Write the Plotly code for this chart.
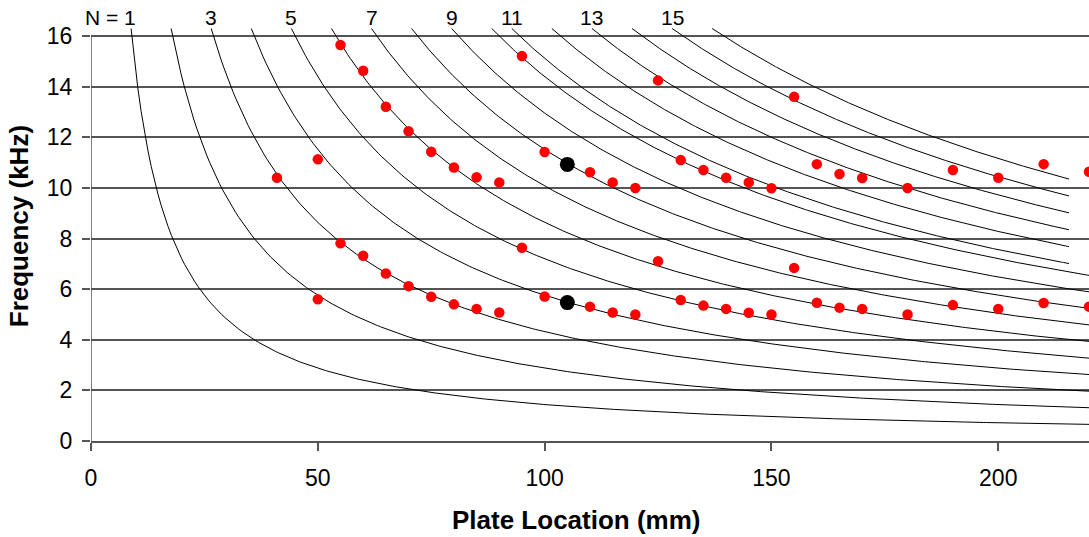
import numpy as np
import plotly.graph_objects as go

# ---- model: resonance frequency f (kHz) = N * C / x (mm) ----
C_KHZ_MM = 144.0
modes_a = [1, 2, 3, 4, 5, 6, 7, 8, 9, 10]
modes_b = [10.5, 11.5, 12.5, 13.5, 14.5, 15.5]
mode_labels = {1: "N = 1", 3: "3", 5: "5", 7: "7", 9: "9",
               10.5: "11", 12.5: "13", 14.5: "15"}
F_START = 16.3      # curves begin at this frequency
X_END_A = 230.0
X_END_B = 215.6

# ---- measured resonances ----
lower_x = [50, 55, 60, 65, 70, 75, 80, 85, 90, 95, 100, 110, 115, 120, 125,
           130, 135, 140, 145, 150, 155, 160, 165, 170, 180, 190, 200, 210, 220]
lower_f = [5.60, 7.81, 7.32, 6.62, 6.12, 5.70, 5.40, 5.22, 5.08, 7.64, 5.71,
           5.31, 5.08, 5.00, 7.10, 5.57, 5.35, 5.22, 5.07, 5.00, 6.84, 5.46,
           5.27, 5.22, 5.00, 5.37, 5.22, 5.45, 5.31]

upper_x = [41, 50, 55, 60, 65, 70, 75, 80, 85, 90, 95, 100, 110, 115, 120, 125,
           130, 135, 140, 145, 150, 155, 160, 165, 170, 180, 190, 200, 210, 220]
upper_f = [10.40, 11.13, 15.65, 14.63, 13.21, 12.24, 11.43, 10.81, 10.42, 10.22,
           15.21, 11.42, 10.62, 10.22, 10.00, 14.25, 11.10, 10.71, 10.40, 10.22,
           9.99, 13.60, 10.94, 10.55, 10.39, 10.00, 10.71, 10.40, 10.94, 10.64]

ref_x = [105, 105]
ref_f = [10.93, 5.47]

x_ticks = [0, 50, 100, 150, 200]
y_ticks = [0, 2, 4, 6, 8, 10, 12, 14, 16]

X_MAX = 220.0
Y_MAX = 16.36
FONT = "Arial, Liberation Sans, sans-serif"

fig = go.Figure()

def add_mode_curve(n, x_end):
    x0 = n * C_KHZ_MM / F_START
    xs = np.linspace(x0, x_end, 300)
    fig.add_trace(go.Scatter(
        x=xs, y=n * C_KHZ_MM / xs, mode="lines",
        line=dict(color="black", width=1), hoverinfo="skip", showlegend=False))

for n in modes_a:
    add_mode_curve(n, X_END_A)
for n in modes_b:
    add_mode_curve(n, X_END_B)

for xs, fs in ((lower_x, lower_f), (upper_x, upper_f)):
    fig.add_trace(go.Scatter(
        x=xs, y=fs, mode="markers", cliponaxis=False,
        marker=dict(color="#FF0000", size=10.5, line=dict(width=0)),
        showlegend=False))

fig.add_trace(go.Scatter(
    x=ref_x, y=ref_f, mode="markers", cliponaxis=False,
    marker=dict(color="black", size=15, line=dict(width=0)),
    showlegend=False))

# text placed in paper fractions so it may sit outside the plotting area
def px(xv):
    return xv / X_MAX

def py(yv):
    return yv / Y_MAX

annotations = []
for n, text in mode_labels.items():
    x0 = n * C_KHZ_MM / F_START
    ann = dict(x=px(x0), y=py(16.74), xref="paper", yref="paper", text=text,
               showarrow=False, font=dict(family=FONT, size=21, color="black"),
               xanchor="center", yanchor="middle")
    if n == 1:
        ann.update(xanchor="right", xshift=7)
    annotations.append(ann)

annotations.append(dict(
    x=px(-15.8), y=py(8.5), xref="paper", yref="paper",
    text="<b>Frequency (kHz)</b>", showarrow=False, textangle=-90,
    xanchor="center", yanchor="middle",
    font=dict(family=FONT, size=26, color="black")))
annotations.append(dict(
    x=px(106.9), y=py(-3.12), xref="paper", yref="paper",
    text="<b>Plate Location (mm)</b>", showarrow=False,
    xanchor="center", yanchor="middle",
    font=dict(family=FONT, size=26, color="black")))

fig.update_layout(
    width=1089, height=537,
    margin=dict(l=91, r=0, t=27, b=96),
    paper_bgcolor="white", plot_bgcolor="white",
    font=dict(family=FONT, size=22, color="black"),
    annotations=annotations,
    shapes=[dict(type="line", xref="x", yref="y", x0=0, x1=0, y0=0, y1=16,
                 line=dict(color="#555555", width=1.5))],
)

fig.update_xaxes(
    range=[0, X_MAX], tickvals=x_ticks, showgrid=False, zeroline=False,
    showline=True, linecolor="#555555", linewidth=1.5,
    ticks="outside", ticklen=8, tickwidth=1.5, tickcolor="#555555",
    ticklabelstandoff=8, tickfont=dict(family=FONT, size=23, color="black"))

fig.update_yaxes(
    range=[0, Y_MAX], tickvals=y_ticks, showgrid=True, gridcolor="#555555",
    gridwidth=1.5, zeroline=False, showline=False,
    ticks="outside", ticklen=8, tickwidth=1.5, tickcolor="#555555",
    ticklabelstandoff=5, tickfont=dict(family=FONT, size=23, color="black"))

fig.write_html("out.html")
